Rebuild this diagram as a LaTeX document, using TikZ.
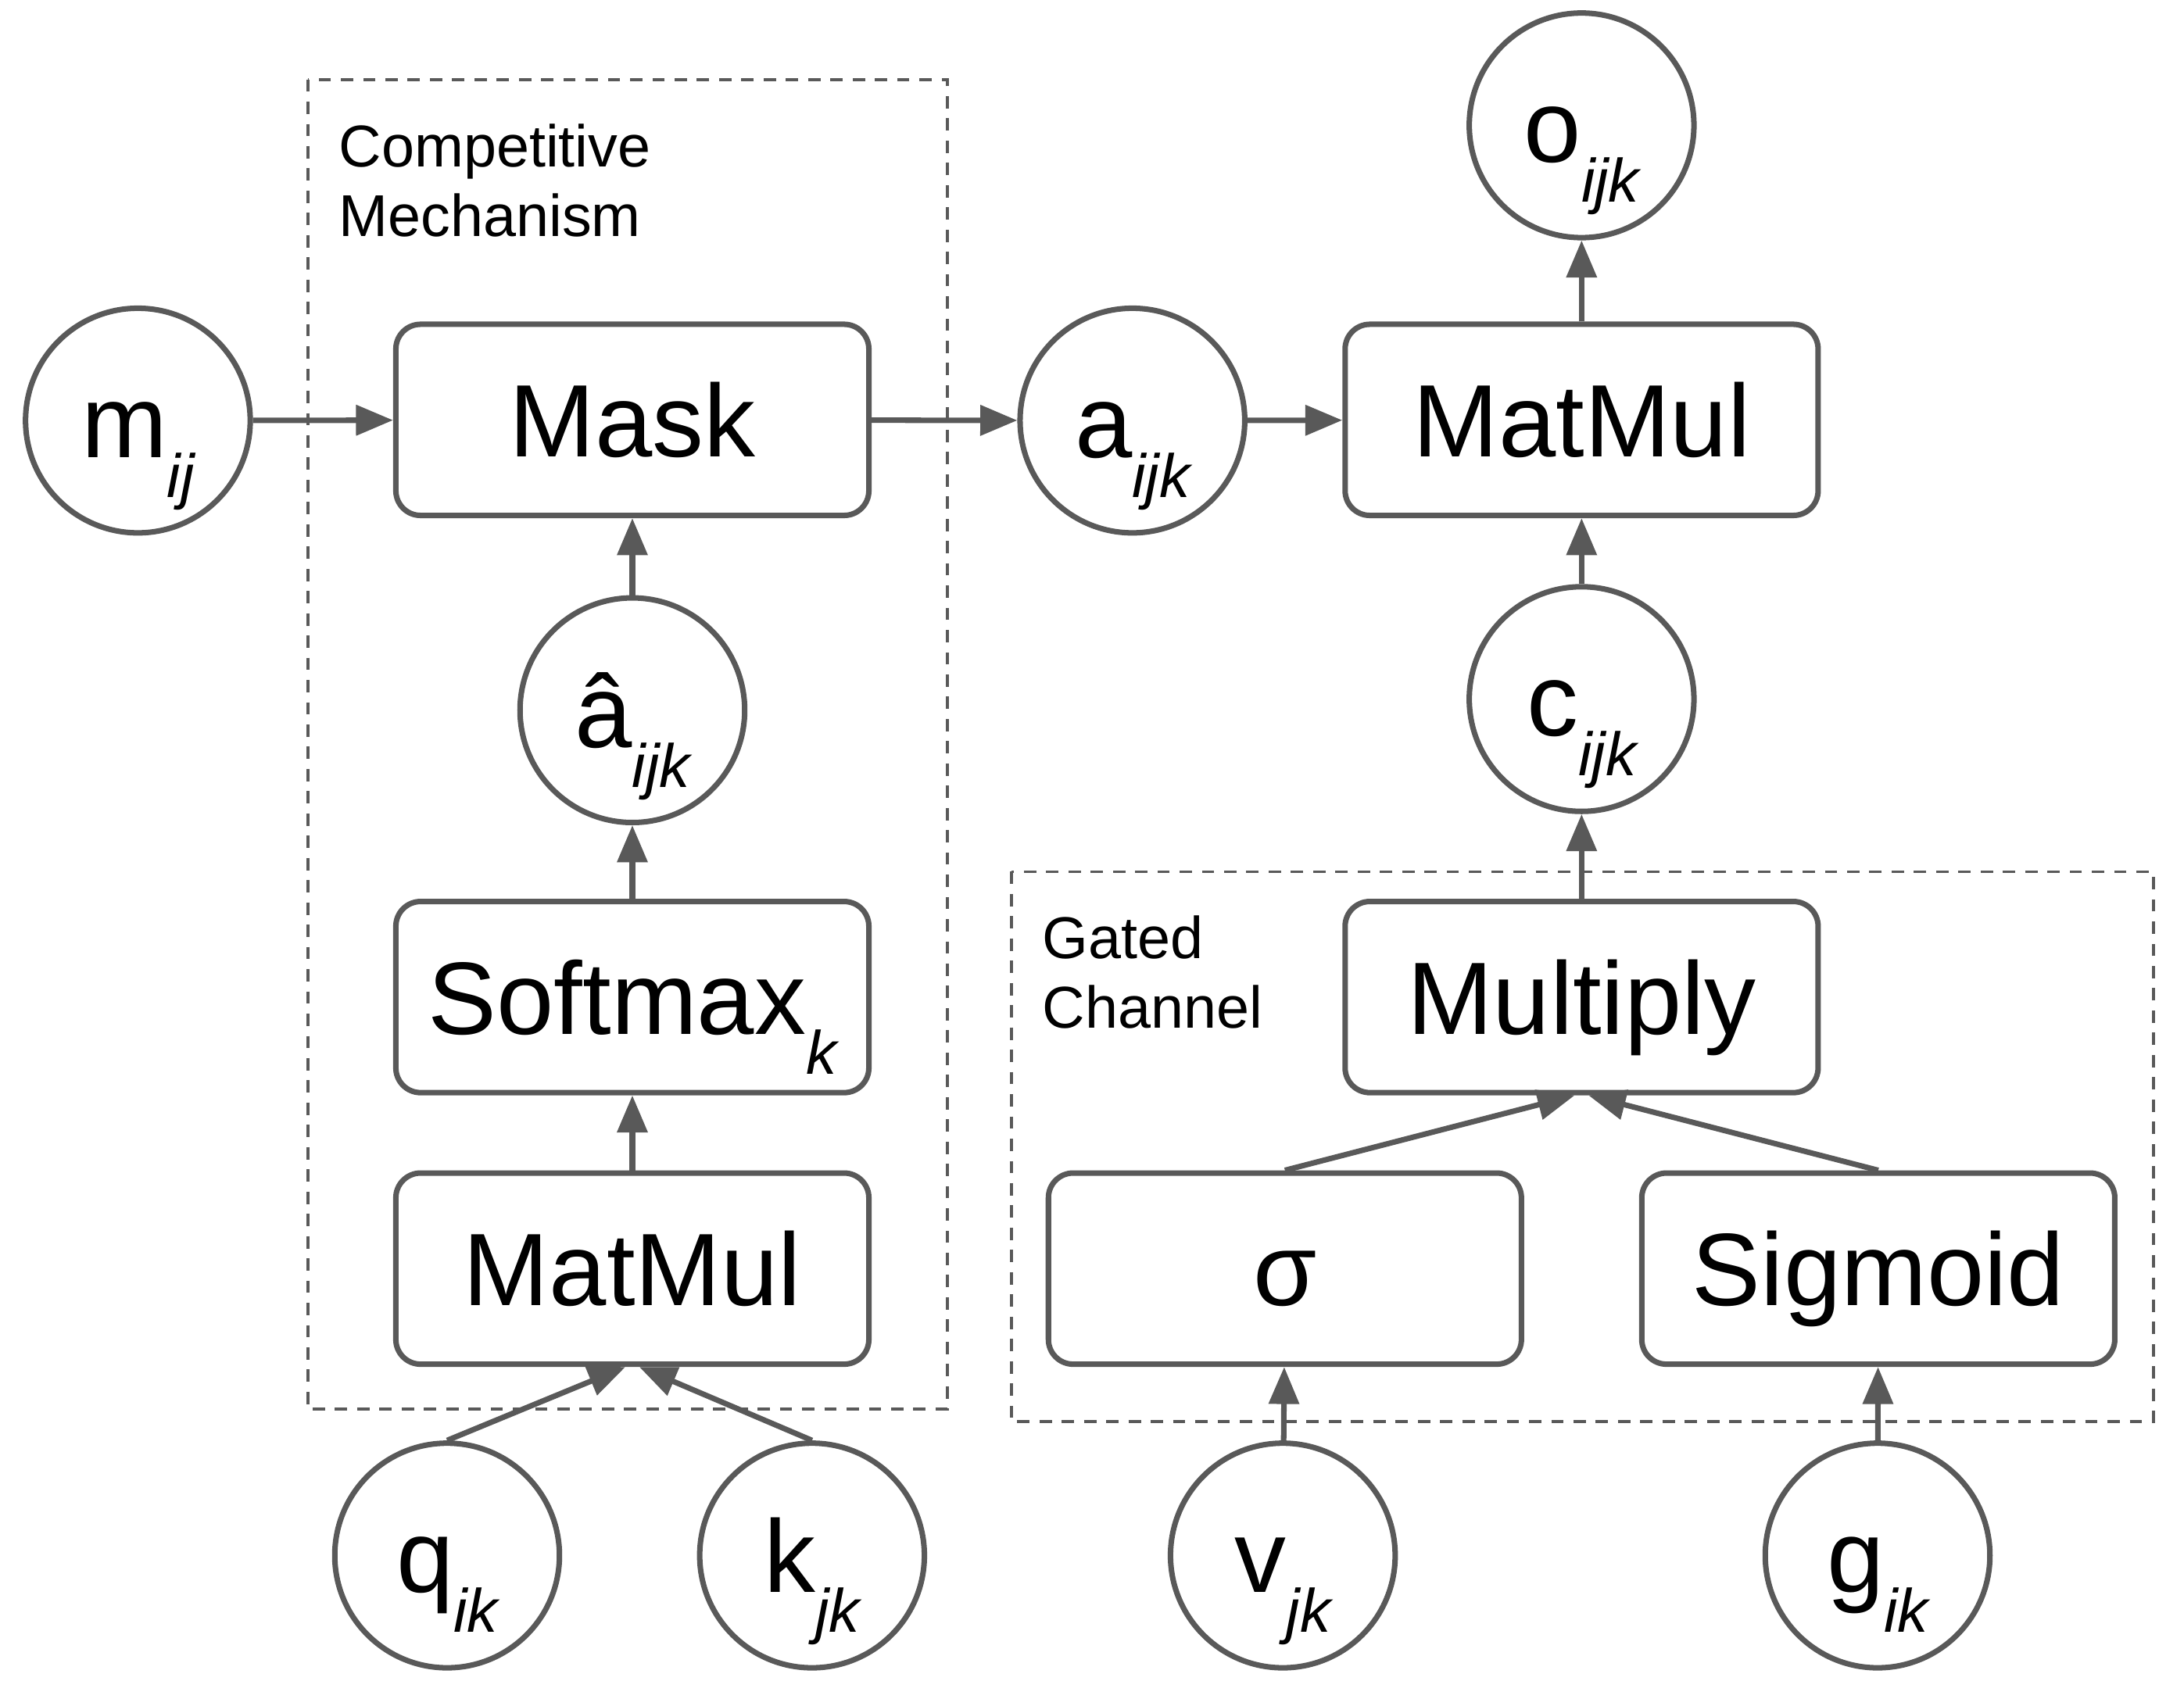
\documentclass[tikz,border=0pt]{standalone}
\usepackage{fontspec}
\setmainfont{Liberation Sans}
\usetikzlibrary{arrows.meta,calc}
\definecolor{lc}{HTML}{595959}
\newcommand\sbx[1]{\raisebox{-14.5pt}{\fontsize{22.3pt}{24pt}\selectfont\itshape #1}}
\begin{document}
\begin{tikzpicture}[x=0.01782cm,y=-0.01782cm,
 every node/.style={font=\fontsize{37.5pt}{40pt}\selectfont},
 cnode/.style={circle,draw=lc,line width=2pt,minimum size=81.8pt,inner sep=0pt,text height=30pt,text depth=3pt,fill=white},
 bnode/.style={rectangle,rounded corners=9pt,draw=lc,line width=2pt,minimum width=172.2pt,minimum height=69.6pt,inner sep=0pt,text height=30pt,text depth=3pt,fill=white},
 conn/.style={draw=lc,line width=2pt,-{Triangle[length=13.5pt,width=10.8pt]}},
 grp/.style={draw=lc,line width=1.1pt,dash pattern=on 4.5pt off 3.6pt},
 lbl/.style={font=\fontsize{21.5pt}{25.4pt}\selectfont,align=left,inner sep=0pt,anchor=base west}]
\useasboundingbox (0,0) rectangle (1568,1207);
% group frames
\draw[grp] (221,57) rectangle (680,1012);
\draw[grp] (726,626) rectangle (1546,1021);
\node[lbl] (lcomp) at (243,170) {Competitive\\Mechanism};
\node[lbl] (lgate) at (748,738.5) {Gated\\Channel};
% nodes
\node[cnode] (m) at (99,302) {m\sbx{ij}};
\node[bnode] (mask) at (454,301.5) {Mask};
\node[cnode] (a) at (813,302) {a\sbx{ijk}};
\node[bnode] (mm2) at (1135.5,301.5) {MatMul};
\node[cnode] (o) at (1135.5,90) {o\sbx{ijk}};
\node[cnode] (c) at (1135.5,502) {c\sbx{ijk}};
\node[bnode] (mult) at (1135.5,716) {Multiply};
\node[bnode] (sg) at (922.5,911) {σ};
\node[bnode] (sgm) at (1348.5,911) {Sigmoid};
\node[cnode] (v) at (921,1117) {v\sbx{jk}};
\node[cnode] (g) at (1348,1117) {g\sbx{ik}};
\node[cnode] (ah) at (454,510) {â\sbx{ijk}};
\node[bnode] (soft) at (454,716) {Softmax\sbx{k}};
\node[bnode] (mm1) at (454,911) {MatMul};
\node[cnode] (q) at (321,1117) {q\sbx{ik}};
\node[cnode] (k) at (583,1117) {k\sbx{jk}};
% connectors
\draw[conn] (m) -- (mask);
\draw[conn] (mask) -- (a);
\draw[conn] (a) -- (mm2);
\draw[conn] (mm2) -- (o);
\draw[conn] (c) -- (mm2);
\draw[conn] (mult) -- (c);
\draw[conn] (sg.north) -- ($(mult.south)+(-5,0)$);
\draw[conn] (sgm.north) -- ($(mult.south)+(5,0)$);
\draw[conn] (v) -- (sg);
\draw[conn] (g) -- (sgm);
\draw[conn] (ah) -- (mask);
\draw[conn] (soft) -- (ah);
\draw[conn] (mm1) -- (soft);
\draw[conn] (q.north) -- ($(mm1.south)+(-5,0)$);
\draw[conn] (k.north) -- ($(mm1.south)+(5,0)$);
\end{tikzpicture}
\end{document}
